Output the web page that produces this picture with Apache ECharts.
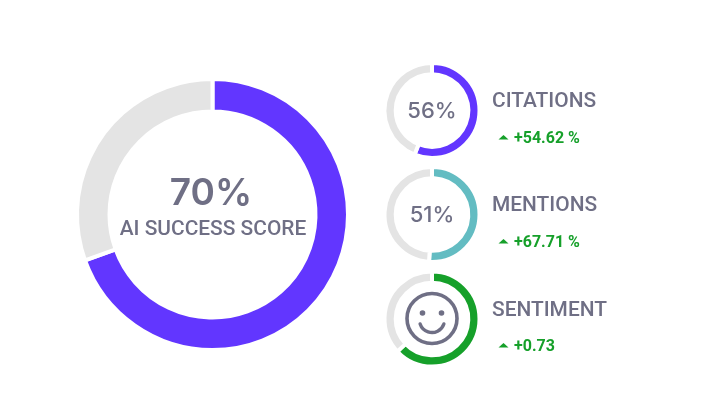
<!DOCTYPE html>
<html><head><meta charset="utf-8">
<style>html,body{margin:0;padding:0;background:#fff}#c{width:713px;height:410px}</style>
<script src="https://cdn.jsdelivr.net/npm/echarts@6/dist/echarts.min.js"></script></head>
<body><div id="c"></div>
<script>
const scoreNames=['AI SUCCESS SCORE','CITATIONS','MENTIONS','SENTIMENT'];
const scoreValues=[69.5,56,51,63];
const scoreLabels=['70%','56%','51%',''];
const changeLabels=['+54.62 %','+67.71 %','+0.73'];
const ringColors=['#6236ff','#6236ff','#63bcc2','#16a02a'];
const track='#e4e4e4', ink='#6f6f85', green='#16a02a';
const fontName='Roboto', numFont='Inter';
const centers=[[212.5,214.5],[432,110.5],[432,214.5],[432,319]];
const chart=echarts.init(document.getElementById('c'),null,{renderer:'canvas'});
function ring(i){
  const big=i===0;
  const r=big?[103,135.5]:[36.3,47.5];
  return {type:'pie',silent:true,startAngle:90,clockwise:true,center:centers[i],radius:r,
    label:{show:false},labelLine:{show:false},
    itemStyle:{borderColor:'#fff',borderWidth:4},
    data:[{value:scoreValues[i],name:scoreNames[i],itemStyle:{color:ringColors[i]}},
          {value:100-scoreValues[i],name:'rest',itemStyle:{color:track}}]};
}
const text=[];
function t(x,y,s,size,color,weight,align,fam){
  text.push({type:'text',x,y,silent:true,style:{text:s,fontSize:size,fontWeight:weight||500,fill:color||ink,fontFamily:fam||fontName,textAlign:align||'center',textVerticalAlign:'middle'}});
}
t(211,194,scoreLabels[0],37,ink,600,'center',numFont);
t(213,230,scoreNames[0],20.9,ink,500);
t(432,111.5,scoreLabels[1],22,ink,500,'center',numFont);
t(432,215.5,scoreLabels[2],22,ink,500,'center',numFont);
[102,206,311].forEach((y,i)=>t(492,y,scoreNames[i+1],20.9,ink,500,'left'));
[137,241,345].forEach((y,i)=>{
  t(514,y+1.5,changeLabels[i],16,green,700,'left');
  text.push({type:'polygon',silent:true,shape:{points:[[498.5,y+2.5],[508.5,y+2.5],[503.5,y-2]]},style:{fill:green}});
});
// smiley
text.push({type:'circle',silent:true,shape:{cx:432,cy:318.5,r:25},style:{fill:'none',stroke:ink,lineWidth:3.6}});
text.push({type:'circle',silent:true,shape:{cx:422.5,cy:313,r:2.8},style:{fill:ink}});
text.push({type:'circle',silent:true,shape:{cx:441.5,cy:313,r:2.8},style:{fill:ink}});
text.push({type:'arc',silent:true,shape:{cx:432,cy:320,r:12.5,startAngle:0.32,endAngle:Math.PI-0.32},style:{fill:'none',stroke:ink,lineWidth:3.4,lineCap:'round'}});
chart.setOption({animation:false,backgroundColor:'#fff',series:[0,1,2,3].map(ring),graphic:text});
</script></body></html>
